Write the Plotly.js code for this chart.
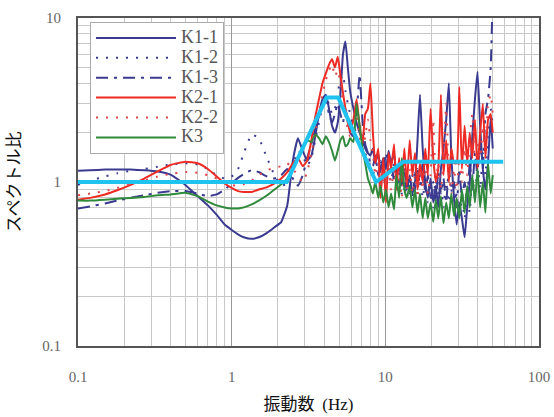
<!DOCTYPE html>
<html>
<head>
<meta charset="utf-8">
<script src="https://cdn.plot.ly/plotly-3.0.1.min.js"></script>
<style>
  html, body { margin: 0; padding: 0; background: #fff; }
  #chart { width: 554px; height: 417px; }
</style>
</head>
<body>
<div id="chart"></div>
<script>
// Frequency grid (Hz) shared by all measured spectral ratio curves
const freq = [
  0.1, 0.12, 0.15, 0.18, 0.22, 0.27, 0.33, 0.4, 0.5, 0.6,
  0.7, 0.8, 0.9, 1.0, 1.1, 1.2, 1.35, 1.5, 1.7, 1.9,
  2.1, 2.3, 2.5, 2.7, 2.9, 3.1, 3.3, 3.5, 3.7, 3.9,
  4.1, 4.3, 4.5, 4.7, 4.9, 5.1, 5.3, 5.5, 5.7, 5.9,
  6.2, 6.5, 6.8, 7.1, 7.4, 7.7, 8.0,
  8.3, 8.6, 9.0, 9.3, 9.7, 10.1, 10.5, 10.9, 11.4, 11.8,
  12.3, 12.8, 13.3, 13.8, 14.4, 15.0, 15.6, 16.2, 16.8, 17.5,
  18.2, 18.9, 19.7, 20.5, 21.3, 22.1, 23.0, 23.9, 24.9, 25.9,
  26.9, 28.0, 29.1, 30.3, 31.5, 32.8, 34.1, 35.4, 36.8, 38.3,
  39.8, 41.4, 43.1, 44.8, 46.6, 48.5, 50.0
];

const k1_1 = [
  1.17, 1.18, 1.19, 1.19, 1.19, 1.18, 1.16, 1.11, 0.96, 0.82,
  0.72, 0.63, 0.55, 0.51, 0.48, 0.46, 0.45, 0.46, 0.49, 0.53,
  0.57, 0.72, 1.35, 1.85, 1.55, 1.35, 1.45, 1.9, 2.6, 3.2,
  3.4, 2.8, 2.2, 2.0, 2.3, 3.4, 6.0, 7.2, 5.0, 3.6,
  2.8, 2.3, 2.0, 1.8, 1.6, 1.5, 1.45,
  1.6, 1.3, 1.5, 1.15, 1.4, 1.2, 1.55, 1.3, 1.5, 1.1,
  1.3, 0.95, 1.2, 0.9, 1.1, 0.85, 1.0, 1.8, 3.4, 1.6,
  1.0, 0.8, 1.05, 0.75, 0.95, 0.7, 1.2, 1.6, 2.4, 4.0,
  1.4, 0.8, 0.55, 0.75, 0.6, 0.46, 0.7, 1.0, 1.9, 3.2,
  4.7, 2.2, 1.2, 0.9, 1.3, 2.5, 1.6
];

const k1_2 = [
  0.96, 1.02, 1.08, 1.13, 1.17, 1.2, 1.24, 1.28, 1.3, 1.28,
  1.2, 1.1, 1.05, 1.08, 1.2, 1.5, 1.95, 1.85, 1.4, 1.1,
  0.95, 0.98, 1.25, 1.55, 1.45, 1.25, 1.4, 1.8, 2.3, 2.9,
  3.2, 3.0, 2.6, 2.8, 3.5, 4.2, 4.5, 3.6, 3.0, 2.6,
  2.2, 2.0, 2.2, 1.8, 1.5, 1.35, 1.25,
  1.2, 1.0, 1.15, 0.95, 1.1, 0.9, 1.2, 1.0, 1.3, 0.95,
  1.15, 0.85, 1.0, 0.8, 1.05, 0.8, 1.2, 0.9, 1.1, 0.8,
  1.0, 0.75, 0.95, 0.7, 1.1, 0.8, 0.95, 0.7, 1.0, 0.75,
  0.9, 0.65, 0.85, 0.6, 0.8, 0.6, 0.85, 0.65, 1.1, 0.8,
  1.3, 0.9, 1.5, 1.1, 2.0, 2.8, 2.2
];

const k1_3 = [
  0.69, 0.71, 0.74, 0.77, 0.8, 0.83, 0.86, 0.88, 0.88, 0.85,
  0.82, 0.84, 0.9, 0.98, 1.06, 1.12, 1.18, 1.15, 1.08, 1.05,
  1.1, 1.2, 1.05, 0.95, 1.1, 1.4, 1.7, 2.1, 2.5, 2.9,
  3.1, 2.6, 2.3, 2.6, 3.0, 2.6, 2.3, 2.8, 2.4, 2.0,
  1.9, 2.6, 4.5, 2.4, 1.7, 1.5, 1.3,
  1.25, 1.45, 1.1, 1.35, 1.2, 1.5, 1.15, 1.35, 1.0, 1.25,
  0.95, 1.15, 0.9, 1.05, 0.85, 1.1, 0.9, 1.2, 0.95, 1.3,
  0.85, 1.1, 0.8, 1.0, 0.75, 1.15, 0.85, 1.05, 0.75, 1.2,
  0.9, 1.0, 0.7, 1.2, 0.8, 1.0, 0.75, 1.3, 0.9, 1.5,
  1.1, 1.8, 1.2, 2.6, 3.2, 5.0, 14
];

const k2_1 = [
  0.78, 0.8, 0.84, 0.89, 0.96, 1.05, 1.16, 1.27, 1.33, 1.3,
  1.2, 1.08, 0.98, 0.92, 0.88, 0.87, 0.87, 0.9, 0.93, 0.98,
  1.05, 1.15, 1.3, 1.4, 1.25, 1.35, 1.8, 2.5, 3.2, 4.0,
  4.6, 5.2, 5.6, 5.0, 5.8, 4.5, 3.5, 2.8, 2.3, 2.0,
  2.4, 3.2, 2.2, 1.7, 2.6, 2.8, 4.0,
  2.0, 1.3, 1.6, 0.8, 1.4, 0.75, 1.5, 1.2, 1.7, 0.9,
  1.4, 1.0, 1.6, 0.95, 1.8, 1.1, 1.5, 0.9, 1.3, 1.0,
  1.6, 1.1, 2.8, 1.4, 1.0, 1.2, 3.4, 1.1, 1.8, 1.0,
  1.6, 1.3, 1.3, 3.8, 1.2, 2.2, 1.3, 2.0, 1.4, 2.4,
  1.2, 2.0, 3.0, 1.4, 2.4, 2.6, 2.0
];

const k2_2 = [
  0.83, 0.85, 0.88, 0.92, 0.97, 1.02, 1.08, 1.12, 1.15, 1.14,
  1.1, 1.05, 1.0, 0.96, 0.95, 0.97, 1.02, 1.1, 1.18, 1.22,
  1.25, 1.3, 1.2, 1.1, 1.0, 1.15, 1.5, 2.0, 2.7, 3.4,
  4.2, 4.8, 5.2, 4.4, 4.8, 4.0, 3.1, 2.5, 2.1, 1.9,
  2.0, 2.6, 1.9, 1.6, 1.9, 2.4, 1.8,
  1.5, 1.1, 1.3, 0.9, 1.2, 0.95, 1.3, 0.9, 1.2, 0.85,
  1.1, 0.8, 1.3, 0.9, 1.2, 0.85, 1.1, 0.8, 1.2, 0.9,
  1.3, 0.85, 1.1, 2.4, 1.0, 1.3, 0.9, 1.4, 3.0, 1.1,
  0.85, 1.2, 0.9, 1.4, 1.0, 1.6, 1.1, 1.8, 2.6, 1.3,
  1.8, 1.3, 2.2, 1.6, 3.0, 3.4, 2.6
];

const k3 = [
  0.77, 0.77, 0.78, 0.79, 0.8, 0.81, 0.83, 0.84, 0.86, 0.82,
  0.76, 0.72, 0.7, 0.69, 0.69, 0.7, 0.73, 0.77, 0.83, 0.9,
  0.97, 1.05, 1.2, 1.4, 1.6, 1.8, 1.75, 1.95, 1.85, 1.7,
  1.9, 1.75, 1.55, 1.35, 1.55, 1.8, 1.9, 1.65, 1.7, 1.85,
  1.75, 3.0, 2.2, 1.6, 1.3, 1.05, 0.95,
  0.85, 1.0, 0.8, 0.95, 0.75, 0.9, 0.7, 0.85, 0.68, 1.1,
  0.8, 1.4, 0.9, 0.8, 0.95, 0.7, 0.9, 0.65, 0.85, 0.6,
  0.8, 0.6, 0.75, 0.57, 0.78, 0.6, 0.82, 0.56, 0.75, 0.6,
  0.85, 0.62, 0.8, 0.6, 0.9, 0.65, 0.95, 0.7, 1.1, 0.75,
  1.2, 0.7, 1.0, 0.65, 1.3, 0.85, 1.1
];

// Idealised model spectrum drawn over the measurements
const modelFreq = [0.1, 2.28, 4.15, 4.94, 8.7, 13.1, 58.5];
const modelRatio = [1.0, 1.0, 3.27, 3.27, 1.0, 1.33, 1.33];

const seriesNames = ['K1-1', 'K1-2', 'K1-3', 'K2-1', 'K2-2', 'K3'];
const seriesValues = [k1_1, k1_2, k1_3, k2_1, k2_2, k3];
const seriesColors = ['#3a3a90', '#3a3a90', '#3a3a90', '#ee2a24', '#e0454a', '#2f8a3c'];
const seriesDash = ['solid', '2px,8px', '12px,6px,3px,6px', 'solid', '2px,8px', 'solid'];

const serif = 'Liberation Serif';

// legend labels are set a little larger than the legend row spacing
const labelStyle = 'font-size:18px';

const traces = seriesNames.map((name, i) => ({
  type: 'scatter',
  mode: 'lines',
  name: '<span style="' + labelStyle + '">' + name + '</span>',
  x: freq,
  y: seriesValues[i],
  line: { color: seriesColors[i], width: 2, dash: seriesDash[i], shape: 'spline', smoothing: 0.4 }
}));

traces.push({
  type: 'scatter',
  mode: 'lines',
  name: 'model',
  showlegend: false,
  x: modelFreq,
  y: modelRatio,
  line: { color: '#1ec3f0', width: 4 }
});

const tickFont = { family: serif, size: 15, color: '#666' };

const layout = {
  width: 554,
  height: 417,
  margin: { l: 78, r: 15, t: 18, b: 71 },
  font: { family: serif, size: 13, color: '#555' },
  paper_bgcolor: '#fff',
  plot_bgcolor: '#fff',
  showlegend: true,
  legend: {
    x: 0.026, y: 0.988, xanchor: 'left', yanchor: 'top',
    bgcolor: '#fff', bordercolor: '#aaa', borderwidth: 1,
    font: { family: serif, size: 13, color: '#555' },
    itemwidth: 80, tracegroupgap: 0
  },
  xaxis: {
    type: 'log',
    range: [-1, 2],
    tickvals: [0.1, 1, 10, 100],
    ticktext: ['0.1', '1', '10', '100'],
    tickfont: tickFont,
    ticks: '',
    ticklabelstandoff: 16,
    showgrid: true,
    gridcolor: '#999',
    gridwidth: 1,
    minor: { dtick: 'D1', showgrid: true, gridcolor: '#c9c9c9', gridwidth: 1, ticks: '' },
    showline: true, linecolor: '#555', linewidth: 2, mirror: true,
    zeroline: false,
    title: { text: '振動数  <span style="font-family:Liberation Serif">(Hz)</span>', font: { family: 'Noto Sans CJK JP', size: 17, color: '#111' }, standoff: 14 }
  },
  yaxis: {
    type: 'log',
    range: [-1, 1],
    tickvals: [0.1, 1, 10],
    ticktext: ['0.1', '1', '10'],
    tickfont: tickFont,
    ticks: '',
    ticklabelstandoff: 12,
    showgrid: true,
    gridcolor: '#999',
    gridwidth: 1,
    minor: { dtick: 'D1', showgrid: true, gridcolor: '#c9c9c9', gridwidth: 1, ticks: '' },
    showline: true, linecolor: '#555', linewidth: 2, mirror: true,
    zeroline: false,
    title: { text: 'スペクトル比', font: { family: 'Noto Sans CJK JP', size: 17, color: '#111' }, standoff: 18 }
  }
};

Plotly.newPlot('chart', traces, layout, { staticPlot: true, displayModeBar: false });
</script>
</body>
</html>
